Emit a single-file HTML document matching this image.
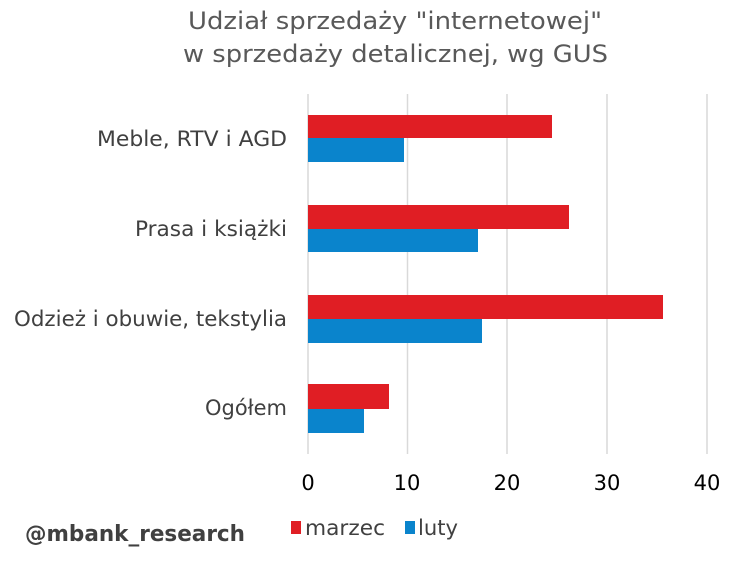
<!DOCTYPE html>
<html><head><meta charset="utf-8"><style>
body{margin:0;background:#fff;}
svg{display:block;font-family:"DejaVu Sans","Liberation Sans",sans-serif;}
</style></head><body>
<svg width="734" height="561" viewBox="0 0 734 561" xmlns="http://www.w3.org/2000/svg">
<rect width="734" height="561" fill="#fff"/>
<text x="188" y="29" font-size="24" fill="#595959" textLength="414" lengthAdjust="spacingAndGlyphs">Udział sprzedaży "internetowej"</text>
<text x="183" y="62" font-size="24" fill="#595959" textLength="425" lengthAdjust="spacingAndGlyphs">w sprzedaży detalicznej, wg GUS</text>
<g stroke="#d9d9d9" stroke-width="1.5">
<line x1="308" y1="94" x2="308" y2="454"/>
<line x1="407.5" y1="94" x2="407.5" y2="454"/>
<line x1="507" y1="94" x2="507" y2="454"/>
<line x1="607" y1="94" x2="607" y2="454"/>
<line x1="707" y1="94" x2="707" y2="454"/>
</g>
<g fill="#e01e24">
<rect x="308" y="115" width="244" height="23"/>
<rect x="308" y="205" width="261" height="24"/>
<rect x="308" y="295" width="355" height="24"/>
<rect x="308" y="384" width="81" height="25"/>
</g>
<g fill="#0a84cc">
<rect x="308" y="138" width="96" height="24"/>
<rect x="308" y="229" width="170" height="23"/>
<rect x="308" y="319" width="174" height="24"/>
<rect x="308" y="409" width="56" height="24"/>
</g>
<g font-size="21" fill="#404040">
<text x="97" y="146" textLength="190" lengthAdjust="spacingAndGlyphs">Meble, RTV i AGD</text>
<text x="135" y="236" textLength="152" lengthAdjust="spacingAndGlyphs">Prasa i książki</text>
<text x="14" y="326" textLength="273" lengthAdjust="spacingAndGlyphs">Odzież i obuwie, tekstylia</text>
<text x="205" y="415" textLength="82" lengthAdjust="spacingAndGlyphs">Ogółem</text>
</g>
<g font-size="21" fill="#000" text-anchor="middle">
<text x="308" y="490">0</text>
<text x="407" y="490">10</text>
<text x="507" y="490">20</text>
<text x="607" y="490">30</text>
<text x="707" y="490">40</text>
</g>
<rect x="291" y="521" width="10" height="13" fill="#e01e24"/>
<text x="305" y="535" font-size="21" fill="#404040" textLength="80" lengthAdjust="spacingAndGlyphs">marzec</text>
<rect x="405" y="521" width="10" height="13" fill="#0a84cc"/>
<text x="418" y="535" font-size="21" fill="#404040" textLength="40" lengthAdjust="spacingAndGlyphs">luty</text>
<text x="25" y="541" font-size="22" font-weight="bold" fill="#404040" textLength="220" lengthAdjust="spacingAndGlyphs">@mbank_research</text>
</svg>
</body></html>
